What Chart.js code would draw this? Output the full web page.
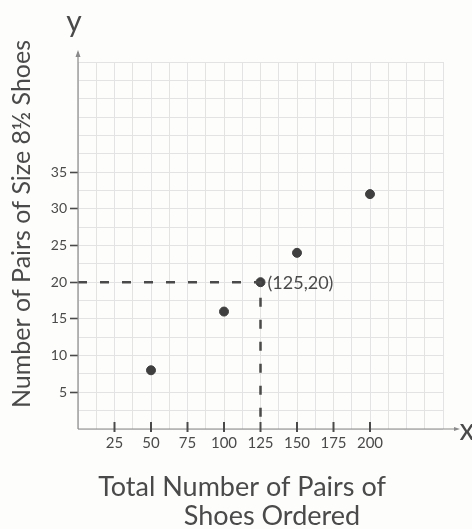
<!DOCTYPE html>
<html>
<head>
<meta charset="utf-8">
<script src="https://cdn.jsdelivr.net/npm/chart.js@4/dist/chart.umd.min.js"></script>
<style>
  html, body { margin: 0; padding: 0; background: #fdfdfb; }
  #wrap { width: 472px; height: 529px; }
</style>
</head>
<body>
<div id="wrap"><canvas id="shoeChart" width="472" height="529"></canvas></div>
<script>
// values
const totalOrdered = [50, 100, 125, 150, 200];
const size85Pairs = [8, 16, 20, 24, 32];
const xTickLabels = [25, 50, 75, 100, 125, 150, 175, 200];
const yTickLabels = [5, 10, 15, 20, 25, 30, 35];
// the dashed guide to (125, 20)
const guideX = [0, 125, 125];
const guideY = [20, 20, 0];

const ink = '#4a4a4a';
const penFont = 'Lato, "Open Sans", sans-serif';

// axes with arrows, little hand ticks on x, and the free text
const paperPlugin = {
    id: 'paper',
    afterDraw(chart) {
        const { ctx, chartArea: a, scales } = chart;
        ctx.save();
        ctx.strokeStyle = '#8a8a8a';
        ctx.fillStyle = '#8a8a8a';
        ctx.lineWidth = 1.2;
        // y axis
        ctx.beginPath();
        ctx.moveTo(a.left, a.bottom);
        ctx.lineTo(a.left, a.top - 10);
        ctx.stroke();
        ctx.beginPath();
        ctx.moveTo(a.left, a.top - 12);
        ctx.lineTo(a.left - 2.5, a.top - 5);
        ctx.lineTo(a.left + 2.5, a.top - 5);
        ctx.fill();
        // x axis
        ctx.beginPath();
        ctx.moveTo(a.left, a.bottom);
        ctx.lineTo(a.right + 14, a.bottom);
        ctx.stroke();
        ctx.beginPath();
        ctx.moveTo(a.right + 17, a.bottom);
        ctx.lineTo(a.right + 11, a.bottom - 2);
        ctx.lineTo(a.right + 11, a.bottom + 2);
        ctx.fill();

        // x tick marks
        ctx.strokeStyle = ink;
        ctx.lineWidth = 2;
        xTickLabels.forEach(v => {
            const px = scales.x.getPixelForValue(v);
            ctx.beginPath();
            ctx.moveTo(px, a.bottom - 7);
            ctx.lineTo(px, a.bottom + 3);
            ctx.stroke();
        });

        ctx.fillStyle = ink;
        ctx.textBaseline = 'middle';
        ctx.textAlign = 'left';
        // point label
        ctx.font = '18px ' + penFont;
        ctx.fillText('(125,20)', scales.x.getPixelForValue(125) + 7, scales.y.getPixelForValue(20) + 1);

        // axis letters
        ctx.textAlign = 'center';
        ctx.font = '30px ' + penFont;
        ctx.fillText('y', a.left - 4, 22);
        ctx.fillText('x', a.right + 24, a.bottom + 1);

        // x title
        ctx.font = '27px ' + penFont;
        ctx.fillText('Total Number of Pairs of', 242, 487);
        ctx.fillText('Shoes Ordered', 272, 516);

        // y title
        ctx.translate(22, 224);
        ctx.rotate(-Math.PI / 2);
        ctx.font = '25px ' + penFont;
        ctx.fillText('Number of Pairs of Size 8½ Shoes', 0, 0);
        ctx.restore();
    }
};

new Chart(document.getElementById('shoeChart'), {
    type: 'scatter',
    data: {
        datasets: [{
            label: 'Guide',
            type: 'line',
            data: guideX.map((x, i) => ({ x: x, y: guideY[i] })),
            borderColor: ink,
            borderWidth: 2.5,
            borderDash: [9, 13],
            pointRadius: 0,
            fill: false
        }, {
            label: 'Shoes',
            data: totalOrdered.map((x, i) => ({ x: x, y: size85Pairs[i] })),
            backgroundColor: '#3f3f3f',
            borderColor: '#3f3f3f',
            pointRadius: 4.5
        }]
    },
    plugins: [paperPlugin],
    options: {
        responsive: false,
        animation: false,
        layout: { padding: { left: 0, top: 62, right: 29, bottom: 0 } },
        plugins: { legend: { display: false }, tooltip: { enabled: false } },
        scales: {
            x: {
                type: 'linear',
                min: 0,
                max: 250,
                afterFit: s => { s.height = 100; },
                afterBuildTicks: s => {
                    s.ticks = [];
                    for (let v = 0; v <= 250; v += 12.5) s.ticks.push({ value: v });
                },
                ticks: {
                    autoSkip: false,
                    maxRotation: 0,
                    padding: 5,
                    color: ink,
                    font: { family: penFont, size: 15 },
                    callback: v => xTickLabels.includes(v) ? String(v) : ''
                },
                grid: { color: '#e3e3e3', drawTicks: false },
                border: { display: false }
            },
            y: {
                type: 'linear',
                min: 0,
                max: 50,
                afterFit: s => { s.width = 78; },
                afterBuildTicks: s => {
                    s.ticks = [];
                    for (let v = 0; v <= 50; v += 2.5) s.ticks.push({ value: v });
                },
                ticks: {
                    autoSkip: false,
                    padding: 3,
                    color: ink,
                    font: { family: penFont, size: 14 },
                    callback: v => yTickLabels.includes(v) ? String(v) : ''
                },
                grid: {
                    color: '#e3e3e3',
                    tickLength: 8,
                    tickWidth: 1.6,
                    tickColor: c => (c.tick && yTickLabels.includes(c.tick.value)) ? ink : 'rgba(0,0,0,0)'
                },
                border: { display: false }
            }
        }
    }
});
</script>
</body>
</html>
